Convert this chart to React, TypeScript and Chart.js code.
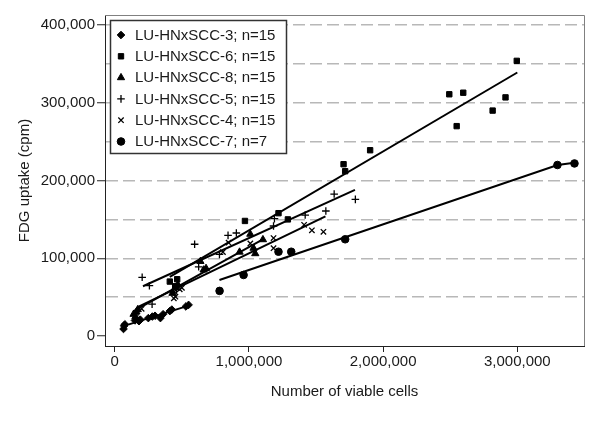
import React, { useEffect, useRef } from "react";
import { Chart, registerables } from "chart.js";
import { drawPoint } from "chart.js/helpers";

Chart.register(...registerables);

// ---- data ----
const seriesNames = [
  "LU-HNxSCC-3; n=15",
  "LU-HNxSCC-6; n=15",
  "LU-HNxSCC-8; n=15",
  "LU-HNxSCC-5; n=15",
  "LU-HNxSCC-4; n=15",
  "LU-HNxSCC-7; n=7",
];

const scc3X = [65000, 70000, 75000, 150000, 180000, 190000, 250000, 280000, 300000, 340000, 360000, 410000, 425000, 530000, 550000];
const scc3Y = [9000, 13000, 15000, 20000, 19000, 21000, 23000, 25000, 26000, 23000, 28000, 32000, 34000, 38000, 40000];

const scc6X = [410000, 450000, 465000, 970000, 1220000, 1290000, 1705000, 1717000, 1903000, 2493000, 2548000, 2597000, 2816000, 2912000, 2996000];
const scc6Y = [70000, 64000, 73000, 148000, 158000, 150000, 221000, 212000, 239000, 311000, 270000, 313000, 290000, 307000, 354000];

const scc8X = [140000, 154000, 161000, 171000, 430000, 450000, 470000, 638000, 662000, 680000, 930000, 1010000, 1034000, 1047000, 1104000];
const scc8Y = [28000, 25000, 31000, 34000, 55000, 62000, 66000, 96000, 85000, 87000, 108000, 131000, 113000, 106000, 124000];

const scc5X = [204000, 258000, 278000, 460000, 595000, 625000, 780000, 844000, 906000, 1183000, 1190000, 1419000, 1573000, 1635000, 1793000];
const scc5Y = [75500, 64700, 41000, 60000, 118000, 89000, 105000, 129500, 132500, 141500, 151000, 155600, 160800, 182600, 175800];

const scc4X = [160000, 200000, 440000, 452000, 484000, 444000, 500000, 806000, 848000, 1010000, 1183000, 1183000, 1411000, 1469000, 1555000];
const scc4Y = [30000, 35000, 48500, 50500, 60000, 57000, 62000, 108000, 120000, 119000, 126000, 113000, 143000, 136000, 134000];

const scc7X = [781000, 960000, 1220000, 1315000, 1717000, 3299000, 3426000];
const scc7Y = [58000, 78500, 108400, 108400, 124400, 220000, 222000];

// fitted lines (endpoints)
const fit3X = [70000, 550000];
const fit3Y = [13000, 39000];
const fit6X = [410000, 3000000];
const fit6Y = [76000, 339000];
const fit8X = [150000, 1100000];
const fit8Y = [33000, 124000];
const fit5X = [210000, 1790000];
const fit5Y = [64000, 188000];
const fit4X = [170000, 1570000];
const fit4Y = [37000, 154000];
const fit7X = [780000, 3300000, 3425000];
const fit7Y = [72000, 220000, 223000];

const yTickValues = [0, 50000, 100000, 150000, 200000, 250000, 300000, 350000, 400000];
const xTickValues = [0, 1000000, 2000000, 3000000];

const FONT = "'Liberation Sans', Arial, sans-serif";
const TEXT = "#1a1a1a";

const pts = (xs: number[], ys: number[]) => xs.map((x, i) => ({ x, y: ys[i] }));
const fmt = (v: number) => v.toLocaleString("en-US");

const markerStyles: any[] = [
  { pointStyle: "rectRot", radius: 3.8 },
  { pointStyle: "rect", radius: 3.8 },
  { pointStyle: "triangle", radius: 4.2 },
  { pointStyle: "cross", radius: 3.8 },
  { pointStyle: "crossRot", radius: 3.8 },
  { pointStyle: "circle", radius: 3.8 },
];

export default function App() {
  const ref = useRef<HTMLCanvasElement | null>(null);

  useEffect(() => {
    if (!ref.current) return;
    const seriesData = [
      pts(scc3X, scc3Y),
      pts(scc6X, scc6Y),
      pts(scc8X, scc8Y),
      pts(scc5X, scc5Y),
      pts(scc4X, scc4Y),
      pts(scc7X, scc7Y),
    ];
    const fitData = [
      pts(fit3X, fit3Y),
      pts(fit6X, fit6Y),
      pts(fit8X, fit8Y),
      pts(fit5X, fit5Y),
      pts(fit4X, fit4Y),
      pts(fit7X, fit7Y),
    ];

    const datasets: any[] = [];
    fitData.forEach((d, i) => {
      datasets.push({
        label: "fit " + i,
        data: d,
        showLine: true,
        borderColor: "#000",
        borderWidth: 2,
        pointRadius: 0,
        fill: false,
      });
    });
    seriesData.forEach((d, i) => {
      const m = markerStyles[i];
      const isLineMarker = m.pointStyle === "cross" || m.pointStyle === "crossRot";
      datasets.push({
        label: seriesNames[i],
        data: d,
        showLine: false,
        pointStyle: m.pointStyle,
        pointRadius: m.radius,
        backgroundColor: "#000",
        borderColor: "#000",
        borderWidth: isLineMarker ? 1.3 : 1,
      });
    });

    const framePlugin = {
      id: "frameLegend",
      afterDraw(chart: any) {
        const { ctx, chartArea } = chart;
        ctx.save();
        // top and right frame
        ctx.strokeStyle = "#808080";
        ctx.lineWidth = 1;
        ctx.beginPath();
        ctx.moveTo(chartArea.left, chartArea.top + 0.5);
        ctx.lineTo(chartArea.right + 0.5, chartArea.top + 0.5);
        ctx.lineTo(chartArea.right + 0.5, chartArea.bottom);
        ctx.stroke();

        // legend box
        const bx = 110.5, by = 20.5, bw = 176, bh = 133;
        ctx.fillStyle = "#fff";
        ctx.fillRect(bx, by, bw, bh);
        ctx.strokeStyle = "#333";
        ctx.lineWidth = 1.5;
        ctx.strokeRect(bx, by, bw, bh);

        ctx.font = "15px " + FONT;
        ctx.textBaseline = "middle";
        ctx.textAlign = "left";
        for (let i = 0; i < seriesNames.length; i++) {
          const cy = 35 + i * 21.3;
          const m = markerStyles[i];
          const isLineMarker = m.pointStyle === "cross" || m.pointStyle === "crossRot";
          ctx.fillStyle = "#000";
          ctx.strokeStyle = "#000";
          ctx.lineWidth = isLineMarker ? 1.3 : 1;
          drawPoint(ctx, { pointStyle: m.pointStyle, radius: m.radius, rotation: 0, borderWidth: ctx.lineWidth } as any, 121, cy);
          ctx.fillStyle = TEXT;
          ctx.fillText(seriesNames[i], 135, cy + 0.5);
        }
        ctx.restore();
      },
    };

    const chart = new Chart(ref.current, {
      type: "scatter",
      data: { datasets },
      options: {
        animation: false,
        responsive: false,
        events: [],
        layout: { padding: { left: 16, right: 16, top: 15, bottom: 35 } },
        plugins: {
          legend: { display: false },
          tooltip: { enabled: false },
        },
        scales: {
          x: {
            type: "linear",
            min: -73000,
            max: 3497000,
            afterBuildTicks: (s: any) => {
              s.ticks = xTickValues.map((v) => ({ value: v }));
            },
            afterFit: (s: any) => {
              s.height = 55;
            },
            ticks: {
              callback: (v: any) => fmt(Number(v)),
              font: { family: FONT, size: 15 },
              color: TEXT,
              padding: 1,
              maxRotation: 0,
              autoSkip: false,
            },
            grid: {
              drawOnChartArea: false,
              drawTicks: true,
              tickLength: 6,
              tickColor: "#222",
              tickWidth: 1,
            },
            border: { display: true, color: "#222", width: 1 },
            title: {
              display: true,
              text: "Number of viable cells",
              font: { family: FONT, size: 15 },
              color: TEXT,
              padding: 0,
            },
          },
          y: {
            type: "linear",
            min: -12900,
            max: 413000,
            afterBuildTicks: (s: any) => {
              s.ticks = yTickValues.map((v) => ({ value: v }));
            },
            afterFit: (s: any) => {
              s.width = 89;
            },
            ticks: {
              callback: (v: any) => (Number(v) % 100000 === 0 ? fmt(Number(v)) : ""),
              font: { family: FONT, size: 15 },
              color: TEXT,
              padding: 2,
              autoSkip: false,
            },
            grid: {
              drawOnChartArea: true,
              drawTicks: true,
              tickLength: 8,
              lineWidth: 1.5,
              tickWidth: 1,
              color: (c: any) => (c.tick && c.tick.value === 0 ? "rgba(0,0,0,0)" : "#b8b8b8"),
              tickColor: (c: any) => (c.tick && c.tick.value % 100000 === 0 ? "#222" : "rgba(0,0,0,0)"),
            },
            border: { display: true, color: "#222", width: 1, dash: [12, 5] },
            title: {
              display: true,
              text: "FDG uptake (cpm)",
              font: { family: FONT, size: 15 },
              color: TEXT,
              padding: 0,
            },
          },
        },
      },
      plugins: [framePlugin],
    } as any);

    return () => chart.destroy();
  }, []);

  return (
    <div style={{ position: "absolute", left: 0, top: 0, width: 600, height: 436, background: "#fff" }}>
      <canvas ref={ref} width={600} height={436} style={{ display: "block" }} />
    </div>
  );
}
